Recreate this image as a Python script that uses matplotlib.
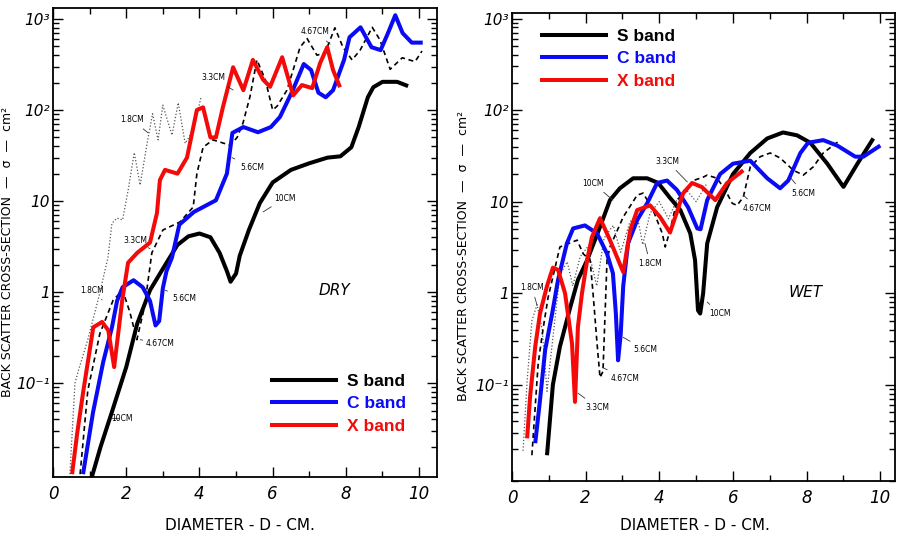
import matplotlib
matplotlib.use('Agg')
import matplotlib.pyplot as plt
from matplotlib.lines import Line2D
from matplotlib.ticker import FixedLocator, LogLocator, MultipleLocator, NullFormatter

plt.rcParams.update({
    'font.family': ['DejaVu Sans'],
    'axes.linewidth': 1.3,
    'xtick.direction': 'in',
    'ytick.direction': 'in',
})

# ---------- DRY panel data (diameter cm, sigma cm^2) ----------
dry_s_d = [1.05, 1.3, 1.6, 2.0, 2.3, 2.65, 3.0, 3.4, 3.7, 4.0, 4.3, 4.55, 4.75, 4.85, 5.0,
           5.1, 5.35, 5.65, 6.0, 6.5, 7.0, 7.5, 7.85, 8.15, 8.35, 8.6, 8.75, 9.0, 9.4, 9.7]
dry_s_sig = [0.009, 0.02, 0.047, 0.15, 0.45, 1.05, 1.8, 3.3, 4.1, 4.4, 4.0, 2.7, 1.7, 1.3, 1.6,
             2.5, 4.8, 9.5, 16, 22, 26, 30, 31, 39, 65, 138, 178, 204, 204, 183]

dry_c_d = [0.82, 1.09, 1.37, 1.61, 1.75, 1.9, 2.2, 2.45, 2.65, 2.8, 2.9, 3.0, 3.1, 3.25, 3.45,
           3.85, 4.45, 4.75, 4.9, 5.2, 5.6, 5.95, 6.2, 6.55, 6.85, 7.05, 7.25, 7.45, 7.65, 7.95,
           8.1, 8.4, 8.7, 8.95, 9.15, 9.35, 9.55, 9.8, 10.1]
dry_c_sig = [0.01, 0.047, 0.17, 0.41, 0.8, 1.13, 1.35, 1.13, 0.8, 0.43, 0.48, 1.1, 1.7, 2.4, 5.5,
             7.6, 10.2, 20, 56, 65, 57, 65, 84, 165, 320, 275, 155, 138, 165, 355,
             630, 810, 490, 455, 700, 1100, 700, 550, 550]

dry_x_d = [0.52, 0.66, 0.83, 1.1, 1.34, 1.51, 1.67, 1.89, 2.05, 2.3, 2.65, 2.84, 2.92, 3.06, 3.4,
           3.66, 3.93, 4.1, 4.3, 4.45, 4.64, 4.92, 5.2, 5.46, 5.74, 5.93, 6.26, 6.56, 6.8, 7.08,
           7.3, 7.49, 7.65, 7.84]
dry_x_sig = [0.01, 0.028, 0.083, 0.41, 0.47, 0.38, 0.15, 0.81, 2.1, 2.7, 3.5, 7.4, 17, 22, 20,
             30, 100, 107, 50, 50, 107, 295, 165, 355, 215, 180, 380, 145, 188, 174,
             330, 490, 275, 178]

dry_467_d = [0.74, 0.95, 1.28, 1.64, 1.9, 2.1, 2.29, 2.5, 2.7, 3.0, 3.47, 3.83, 3.93, 4.1, 4.37,
             4.84, 5.03, 5.19, 5.38, 5.57, 5.8, 6.0, 6.12, 6.39, 6.75, 6.94, 7.21, 7.43, 7.7,
             7.92, 8.17, 8.39, 8.72, 8.93, 9.21, 9.54, 9.89, 10.08]
dry_467_sig = [0.01, 0.083, 0.35, 0.81, 1.05, 0.6, 0.3, 0.69, 2.7, 4.8, 5.9, 8.6, 20, 39, 47,
               41, 50, 72, 140, 355, 215, 100, 110, 165, 490, 610, 400, 425, 800,
               490, 355, 455, 810, 590, 280, 375, 340, 445]

dry_18_d = [0.46, 0.6, 0.7, 0.95, 1.28, 1.5, 1.61, 1.75, 1.9, 2.05, 2.22, 2.38, 2.57, 2.72,
            2.87, 3.0, 3.25, 3.42, 3.61, 3.83, 4.05]
dry_18_sig = [0.01, 0.1, 0.14, 0.3, 0.98, 2.4, 5.7, 6.5, 6.2, 13, 34, 15, 43, 91,
              47, 113, 53, 120, 43, 60, 142]

# ---------- WET panel data ----------
wet_s_d = [0.95, 1.11, 1.3, 1.58, 1.79, 2.04, 2.39, 2.66, 2.93, 3.29, 3.67, 3.97, 4.29, 4.57,
           4.84, 4.97, 5.05, 5.11, 5.19, 5.3, 5.57, 6.0, 6.47, 6.93, 7.36, 7.74, 8.1, 8.56,
           9.0, 9.38, 9.81]
wet_s_sig = [0.017, 0.10, 0.26, 0.70, 1.4, 2.3, 5.3, 10.4, 14, 18, 18, 16, 11, 8.1,
             4.5, 2.3, 0.65, 0.6, 1.0, 3.5, 8.7, 20, 34, 49, 57, 53, 44, 26,
             14.5, 26, 49]

wet_c_d = [0.63, 0.76, 0.9, 1.09, 1.25, 1.49, 1.66, 1.98, 2.31, 2.58, 2.74, 2.82, 2.88, 2.95,
           3.02, 3.15, 3.4, 3.67, 3.94, 4.21, 4.48, 4.78, 5.03, 5.12, 5.3, 5.65, 6.0, 6.47,
           6.93, 7.28, 7.5, 7.83, 8.04, 8.45, 8.83, 9.32, 9.54, 10.0]
wet_c_sig = [0.023, 0.068, 0.24, 0.6, 1.4, 3.5, 5.1, 5.5, 4.5, 2.7, 1.65, 0.6, 0.185, 0.35,
             1.2, 3.5, 6.3, 9.6, 16, 17, 13.4, 8.7, 5.1, 5.0, 10.4, 20, 26, 28,
             18, 14, 17, 34, 44, 47, 41, 31, 31, 41]

wet_x_d = [0.41, 0.49, 0.63, 0.76, 0.95, 1.11, 1.25, 1.44, 1.63, 1.71, 1.79, 1.9, 2.04, 2.17,
           2.39, 2.66, 3.02, 3.21, 3.4, 3.75, 4.02, 4.29, 4.65, 4.89, 5.16, 5.52, 5.84, 6.28]
wet_x_sig = [0.026, 0.073, 0.26, 0.6, 1.2, 1.9, 1.8, 1.0, 0.28, 0.065, 0.43, 1.0, 2.3, 4.1,
             6.6, 3.8, 1.7, 4.9, 8.1, 9.1, 6.8, 4.6, 12.4, 16, 14.4, 10.4, 16, 22]

wet_467_d = [0.54, 0.71, 0.84, 0.98, 1.3, 1.77, 1.93, 2.12, 2.2, 2.31, 2.39, 2.47, 2.58, 2.66,
             3.02, 3.4, 3.56, 3.83, 4.08, 4.16, 4.3, 4.48, 4.76, 4.92, 5.19, 5.3, 5.57, 5.79,
             5.98, 6.11, 6.28, 6.47, 6.74, 7.01, 7.28, 7.64, 7.91, 8.18, 8.45, 8.91]
wet_467_sig = [0.017, 0.17, 0.4, 0.9, 3.2, 3.8, 2.7, 2.3, 1.0, 0.28, 0.12, 0.14, 2.3, 3.2,
               6.8, 11.8, 12.4, 8.1, 4.5, 3.2, 5.0, 10.4, 13.4, 17, 18.5, 19.5, 18, 13.4,
               9.6, 9.1, 11.2, 24, 31, 34, 30, 22, 19.5, 24, 34, 47]

wet_18_d = [0.3, 0.41, 0.54, 0.68, 0.82, 0.95, 1.1, 1.3, 1.5, 1.65, 1.85, 2.05, 2.3, 2.5,
            2.75, 2.95, 3.2, 3.4, 3.55, 3.75, 4.0, 4.25, 4.45, 4.7, 5.0, 5.3]
wet_18_sig = [0.019, 0.11, 0.5, 0.75, 0.4, 0.085, 0.3, 1.6, 2.2, 1.2, 2.5, 3.2, 1.2, 4.0,
              5.5, 2.8, 6.0, 7.0, 3.4, 7.5, 10, 6.5, 10, 14, 10, 16]

# ---------- text ----------
band_labels = ['S band', 'C band', 'X band']
band_colors = ['black', '#0a0af5', '#f50a0a']
x_ticks = [0, 2, 4, 6, 8, 10]
x_tick_labels = ['0', '2', '4', '6', '8', '10']
y_ticks = [0.1, 1, 10, 100, 1000]
y_tick_labels = ['10⁻¹', '1', '10', '10²', '10³']
x_title = 'DIAMETER - D - CM.'
y_title = 'BACK SCATTER CROSS-SECTION  —  σ  —  cm²'

# curve labels: (text, text x, text y, leader end x, leader end y)
dry_notes = [
    ('4.67CM', 7.16, 720, 7.57, 530),
    ('3.3CM', 4.37, 225, 4.92, 166),
    ('1.8CM', 2.16, 78, 2.6, 56),
    ('5.6CM', 5.44, 23.6, 4.89, 30),
    ('10CM', 6.34, 10.8, 5.74, 7.6),
    ('3.3CM', 2.24, 3.7, 2.65, 3.0),
    ('1.8CM', 1.07, 1.05, 1.34, 0.82),
    ('5.6CM', 3.6, 0.86, 3.06, 1.05),
    ('4.67CM', 2.92, 0.275, 2.38, 0.3),
    ('10CM', 1.89, 0.041, 1.61, 0.041),
]
wet_notes = [
    ('10CM', 2.2, 15.9, 2.74, 10.4),
    ('3.3CM', 4.21, 27.7, 4.76, 16.4),
    ('5.6CM', 7.91, 12.4, 7.55, 18.5),
    ('4.67CM', 6.66, 8.5, 6.28, 11.8),
    ('1.8CM', 3.75, 2.1, 3.61, 3.5),
    ('1.8CM', 0.54, 1.16, 0.68, 0.74),
    ('10CM', 5.65, 0.6, 5.3, 0.8),
    ('5.6CM', 3.61, 0.24, 3.02, 0.33),
    ('4.67CM', 3.07, 0.118, 2.45, 0.155),
    ('3.3CM', 2.31, 0.057, 1.79, 0.081),
]


def draw_panel(ax, bands, d467, d18, notes, tag, tag_xy, ylim, xlim, leg_anchor):
    ax.plot(d18[0], d18[1], color='#555555', lw=0.9, ls=(0, (1, 1.6)))
    ax.plot(d467[0], d467[1], color='black', lw=1.2, ls=(0, (3, 2.2)))
    for (d, s), c in zip(bands, band_colors):
        ax.plot(d, s, color=c, lw=2.9, solid_joinstyle='round', solid_capstyle='butt')
    ax.set_yscale('log')
    ax.set_ylim(*ylim)
    ax.set_xlim(*xlim)

    ax.yaxis.set_major_locator(FixedLocator(y_ticks))
    ax.set_yticklabels(y_tick_labels, fontsize=11, style='italic')
    ax.yaxis.set_minor_locator(LogLocator(base=10, subs=range(2, 10)))
    ax.yaxis.set_minor_formatter(NullFormatter())
    ax.set_xticks(x_ticks)
    ax.set_xticklabels(x_tick_labels, fontsize=12, style='italic')
    ax.xaxis.set_minor_locator(MultipleLocator(1))
    ax.tick_params(which='both', top=True, right=True, width=1.0)
    ax.tick_params(which='major', length=7)
    ax.tick_params(which='minor', length=4)
    ax.tick_params(axis='x', which='major', pad=6)
    ax.tick_params(axis='y', which='major', pad=2.5)

    ax.set_xlabel(x_title, fontsize=11)
    ax.set_ylabel(y_title, fontsize=9)

    for txt, tx, ty, px, py in notes:
        ax.annotate(txt, xy=(px, py), xytext=(tx, ty), fontsize=5.5,
                    ha='center', va='center',
                    arrowprops=dict(arrowstyle='-', lw=0.6, color='#333333',
                                    shrinkA=2, shrinkB=0))
    ax.text(tag_xy[0], tag_xy[1], tag, fontsize=11, style='italic', ha='center', va='center')

    handles = [Line2D([], [], color=c, lw=2.9) for c in band_colors]
    leg = ax.legend(handles, band_labels, loc='center left', bbox_to_anchor=leg_anchor,
                    frameon=False, handlelength=3.7, handletextpad=0.6,
                    labelspacing=0.42, borderpad=0, borderaxespad=0,
                    prop={'family': 'Liberation Sans', 'weight': 'bold', 'size': 12.5})
    for t, c in zip(leg.get_texts(), band_colors):
        t.set_color(c)


fig = plt.figure(figsize=(8.97, 5.34), dpi=100)
ax1 = fig.add_axes([0.0591, 0.1067, 0.4281, 0.8783])
ax2 = fig.add_axes([0.5708, 0.0993, 0.4270, 0.8764])

draw_panel(ax1,
           [(dry_s_d, dry_s_sig), (dry_c_d, dry_c_sig), (dry_x_d, dry_x_sig)],
           (dry_467_d, dry_467_sig), (dry_18_d, dry_18_sig),
           dry_notes, 'DRY', (7.7, 1.05), (0.0093, 1320), (0, 10.49), (0.57, 0.156))
draw_panel(ax2,
           [(wet_s_d, wet_s_sig), (wet_c_d, wet_c_sig), (wet_x_d, wet_x_sig)],
           (wet_467_d, wet_467_sig), (wet_18_d, wet_18_sig),
           wet_notes, 'WET', (7.96, 1.02), (0.0089, 1150), (0, 10.4), (0.078, 0.902))

ax1.yaxis.set_label_coords(-0.102, 0.48)
ax1.xaxis.set_label_coords(0.487, -0.087)
ax2.yaxis.set_label_coords(-0.11, 0.48)
ax2.xaxis.set_label_coords(0.478, -0.079)

fig.savefig('out.png', dpi=100)
